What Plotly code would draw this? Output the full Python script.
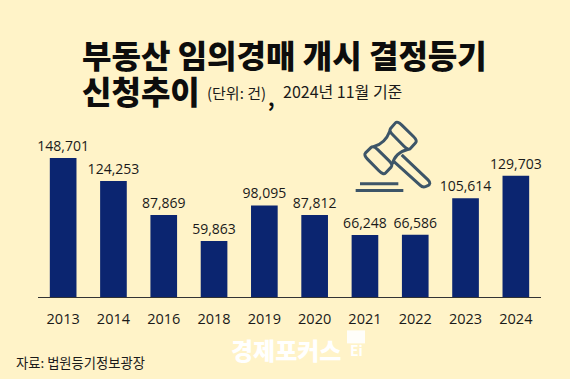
import plotly.graph_objects as go

years = ["2013","2014","2016","2018","2019","2020","2021","2022","2023","2024"]
values = [148701,124253,87869,59863,98095,87812,66248,66586,105614,129703]

W,H=570,379
L,R,T,B=38,541,130,297.5
BG="#FFF3C8"; BAR="#0B2570"; ICON="#3D5568"; INK="#1a1a1a"
def X(p): return (p-L)/(R-L)
def Y(p): return (B-p)/(B-T)
def zpt(zx,zy): return (340+zx/3, 100+zy/3)
def P(pt):
    x,y=zpt(*pt); return f"{X(x):.5f},{Y(y):.5f}"
def line_path(pts):
    return "M"+" L".join(P(p) for p in pts)
def rounded(pts,f=0.22,close=True):
    n=len(pts); s=""
    rng=range(n)
    for i in rng:
        a,b,c=pts[i-1],pts[i],pts[(i+1)%n]
        p1=(b[0]+(a[0]-b[0])*f,b[1]+(a[1]-b[1])*f)
        p2=(b[0]+(c[0]-b[0])*f,b[1]+(c[1]-b[1])*f)
        s+=("M" if i==0 else "L")+P(p1)+" Q"+P(b)+" "+P(p2)+" "
    return s+"Z"
parts=[
 rounded([(172,62),(233,122),(205,152),(146,92)]),
 rounded([(100,136),(160,195),(130,226),(70,165)]),
 "M"+P((150,92))+" Q"+P((135,132))+" "+P((100,140)),
 "M"+P((205,148))+" Q"+P((165,158))+" "+P((157,193)),
 "M"+P((185,165))+" L"+P((264,240))+" Q"+P((276,252))+" "+P((262,258))+" Q"+P((250,266))+" "+P((240,256))+" L"+P((162,185)),
 line_path([(60,252),(175,252)]),
 line_path([(47,272),(190,272)]),
]
shapes=[dict(type="path",xref="paper",yref="paper",path=p,
             line=dict(color=ICON,width=3),layer="above") for p in parts]
shapes.append(dict(type="rect",xref="paper",yref="paper",x0=X(347),x1=X(365),y0=Y(344),y1=Y(331),
                   fillcolor="rgba(255,255,255,0.9)",line=dict(width=0),layer="above"))

fig=go.Figure(go.Bar(
    x=years,y=values,marker=dict(color=BAR,line=dict(width=0)),
    text=[f"{v:,}" for v in values],textposition="outside",cliponaxis=False,constraintext="none",
    textfont=dict(family="Open Sans",size=14,color=INK),hoverinfo="skip"))

KR="Noto Sans CJK KR"
def note(text,px,py,size,color=INK,weight=400,anchor="left"):
    return dict(text=text,xref="paper",yref="paper",x=X(px),y=Y(py),xanchor=anchor,yanchor="middle",
                showarrow=False,font=dict(family=KR,size=size,color=color,weight=weight))
ann=[note("부동산 임의경매 개시 결정등기",80,54,32,"#0d0d0d",900),
     note("신청추이",80,90,32,"#0d0d0d",900),
     note("(단위: 건)",205,92,15),
     note(",",266,97,20,"#0d0d0d",700),
     note("2024년 11월 기준",281,91,16),
     note("자료: 법원등기정보광장",14,363,13.3),
     note("경제포커스",229,350,24,"#FFFFFF",900),
     note("Ei",348,351,14,"#FFFFFF",700)]

fig.update_layout(width=W,height=H,autosize=False,paper_bgcolor=BG,plot_bgcolor=BG,
    margin=dict(l=L,r=W-R,t=T,b=H-B,pad=0),showlegend=False,bargap=0.47,
    xaxis=dict(type="category",showgrid=False,ticks="",showline=True,linecolor="#333333",linewidth=1,
               tickfont=dict(family="Open Sans",size=14.5,color=INK),ticklabelstandoff=9),
    yaxis=dict(visible=False,range=[0,178800],fixedrange=True),
    shapes=shapes,annotations=ann)
fig.write_html("out.html",config=dict(displayModeBar=False),
    post_script="document.body.style.margin='0';document.body.style.background='#FFF3C8';")
